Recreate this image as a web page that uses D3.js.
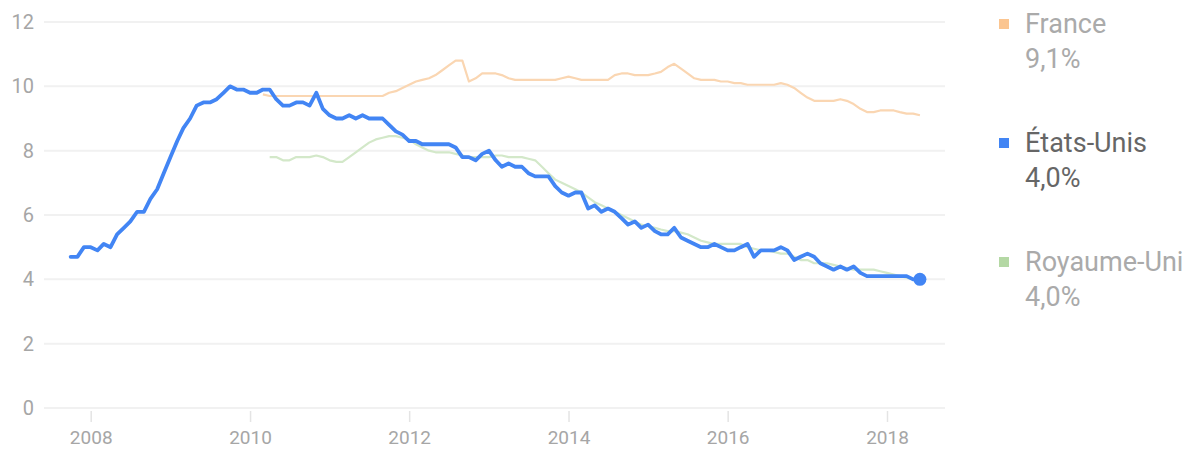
<!DOCTYPE html>
<html>
<head>
<meta charset="utf-8">
<script src="https://cdn.jsdelivr.net/npm/d3@7/dist/d3.min.js"></script>
<style>
  body { margin: 0; background: #fff; }
  svg { display: block; font-family: Roboto, Arial, sans-serif; }
  .grid line { stroke: #f1f1f1; stroke-width: 2; }
  .axis-label { fill: #a6a6a6; font-size: 20px; }
  .legend-name, .legend-value { font-size: 27px; fill: #aaaaaa; }
  .legend-item.active text { fill: #666666; }
</style>
</head>
<body>
<div class="chart"></div>
<script>
// monthly unemployment rate (%)
var usStart = "2007-10";
var usValues = [
  4.7, 4.7, 5.0,
  5.0, 4.9, 5.1, 5.0, 5.4, 5.6, 5.8, 6.1, 6.1, 6.5, 6.8, 7.3,
  7.8, 8.3, 8.7, 9.0, 9.4, 9.5, 9.5, 9.6, 9.8, 10.0, 9.9, 9.9,
  9.8, 9.8, 9.9, 9.9, 9.6, 9.4, 9.4, 9.5, 9.5, 9.4, 9.8, 9.3,
  9.1, 9.0, 9.0, 9.1, 9.0, 9.1, 9.0, 9.0, 9.0, 8.8, 8.6, 8.5,
  8.3, 8.3, 8.2, 8.2, 8.2, 8.2, 8.2, 8.1, 7.8, 7.8, 7.7, 7.9,
  8.0, 7.7, 7.5, 7.6, 7.5, 7.5, 7.3, 7.2, 7.2, 7.2, 6.9, 6.7,
  6.6, 6.7, 6.7, 6.2, 6.3, 6.1, 6.2, 6.1, 5.9, 5.7, 5.8, 5.6,
  5.7, 5.5, 5.4, 5.4, 5.6, 5.3, 5.2, 5.1, 5.0, 5.0, 5.1, 5.0,
  4.9, 4.9, 5.0, 5.1, 4.7, 4.9, 4.9, 4.9, 5.0, 4.9, 4.6, 4.7,
  4.8, 4.7, 4.5, 4.4, 4.3, 4.4, 4.3, 4.4, 4.2, 4.1, 4.1, 4.1,
  4.1, 4.1, 4.1, 4.1, 4.0, 4.0
];

var franceStart = "2010-03";
var franceValues = [
  9.75, 9.7, 9.7, 9.7, 9.7, 9.7, 9.7, 9.7, 9.7, 9.7,
  9.7, 9.7, 9.7, 9.7, 9.7, 9.7, 9.7, 9.7, 9.7, 9.8, 9.85, 9.95,
  10.05, 10.15, 10.2, 10.25, 10.35, 10.5, 10.65, 10.8, 10.8, 10.15, 10.25, 10.4,
  10.4, 10.4, 10.35, 10.25, 10.2, 10.2, 10.2, 10.2, 10.2, 10.2, 10.2, 10.25,
  10.3, 10.25, 10.2, 10.2, 10.2, 10.2, 10.2, 10.35, 10.4, 10.4, 10.35, 10.35,
  10.35, 10.4, 10.45, 10.6, 10.7, 10.55, 10.4, 10.25, 10.2, 10.2, 10.2, 10.15,
  10.15, 10.1, 10.1, 10.05, 10.05, 10.05, 10.05, 10.05, 10.1, 10.05, 9.95, 9.8,
  9.65, 9.55, 9.55, 9.55, 9.55, 9.6, 9.55, 9.45, 9.3, 9.2, 9.2, 9.25,
  9.25, 9.25, 9.2, 9.15, 9.15, 9.1
];

var ukStart = "2010-04";
var ukValues = [
  7.8, 7.8, 7.7, 7.7, 7.8, 7.8, 7.8, 7.85, 7.8,
  7.7, 7.65, 7.65, 7.8, 7.95, 8.1, 8.25, 8.35, 8.4, 8.45, 8.45, 8.4,
  8.35, 8.2, 8.1, 8.0, 7.95, 7.95, 7.95, 7.9, 7.85, 7.8, 7.8, 7.8,
  7.8, 7.85, 7.85, 7.8, 7.8, 7.8, 7.75, 7.7, 7.5, 7.3, 7.1, 7.0,
  6.9, 6.8, 6.7, 6.55, 6.4, 6.3, 6.2, 6.1, 6.0, 5.9, 5.8, 5.7,
  5.65, 5.6, 5.55, 5.5, 5.5, 5.45, 5.4, 5.3, 5.2, 5.15, 5.1, 5.1,
  5.1, 5.1, 5.1, 5.0, 4.95, 4.9, 4.9, 4.85, 4.8, 4.8, 4.7, 4.6,
  4.6, 4.5, 4.5, 4.5, 4.45, 4.4, 4.35, 4.3, 4.3, 4.3, 4.3, 4.25,
  4.2, 4.15, 4.1, 4.05, 4.0
];

var seriesNames = ["France", "États-Unis", "Royaume-Uni"];
var seriesLabels = ["9,1%", "4,0%", "4,0%"];
var yTicks = [0, 2, 4, 6, 8, 10, 12];
var xTickYears = [2008, 2010, 2012, 2014, 2016, 2018];

var svgWidth = 1197;
var svgHeight = 451;
var plotLeft = 44, plotRight = 945;

var parseMonth = d3.timeParse("%Y-%m");

function toPoints(start, values) {
  var d0 = parseMonth(start);
  return values.map(function(v, i) {
    return { date: d3.timeMonth.offset(d0, i), value: v };
  });
}

var france = toPoints(franceStart, franceValues);
var us = toPoints(usStart, usValues);
var uk = toPoints(ukStart, ukValues);

var svg = d3.select(".chart")
  .append("svg")
  .attr("width", svgWidth)
  .attr("height", svgHeight);

var xScale = d3.scaleTime()
  .domain([new Date(2008, 0, 1), new Date(2018, 0, 1)])
  .range([90.7, 887]);
var yScale = d3.scaleLinear().domain([0, 12]).range([408, 22]);

// gridlines
svg.append("g")
  .attr("class", "grid")
  .selectAll("line")
  .data(yTicks)
  .enter()
  .append("line")
  .attr("x1", plotLeft)
  .attr("x2", plotRight)
  .attr("y1", function(d) { return yScale(d); })
  .attr("y2", function(d) { return yScale(d); });

// y labels
svg.append("g")
  .selectAll("text")
  .data(yTicks)
  .enter()
  .append("text")
  .attr("class", "axis-label")
  .attr("x", 34)
  .attr("y", function(d) { return yScale(d); })
  .attr("dy", "0.35em")
  .attr("text-anchor", "end")
  .text(function(d) { return d; });

// x axis: ticks + labels
var bottomAxis = d3.axisBottom(xScale)
  .tickValues(xTickYears.map(function(y) { return new Date(y, 0, 1); }))
  .tickFormat(d3.timeFormat("%Y"))
  .tickSize(11)
  .tickPadding(0);

var xAxis = svg.append("g")
  .attr("transform", "translate(0," + 411 + ")")
  .call(bottomAxis);
xAxis.select(".domain").remove();
xAxis.selectAll(".tick line").attr("stroke", "#e4e4e4").attr("stroke-width", 1.5);
xAxis.selectAll(".tick text")
  .attr("class", "axis-label")
  .attr("fill", null)
  .attr("y", 33)
  .attr("dy", null)
  .style("font-size", "19px")
  .style("font-family", "Roboto, Arial, sans-serif");

var line = d3.line()
  .x(function(d) { return xScale(d.date); })
  .y(function(d) { return yScale(d.value); });

svg.append("path")
  .datum(france)
  .attr("fill", "none")
  .attr("stroke", "#fad6b2")
  .attr("stroke-width", 2.2)
  .attr("stroke-linejoin", "round")
  .attr("d", line);

svg.append("path")
  .datum(uk)
  .attr("fill", "none")
  .attr("stroke", "#d3e8c9")
  .attr("stroke-width", 2.2)
  .attr("stroke-linejoin", "round")
  .attr("d", line);

svg.append("path")
  .datum(us)
  .attr("fill", "none")
  .attr("stroke", "#4285f4")
  .attr("stroke-width", 3.8)
  .attr("stroke-linejoin", "round")
  .attr("stroke-linecap", "round")
  .attr("d", line);

var last = us[us.length - 1];
svg.append("circle")
  .attr("cx", xScale(last.date))
  .attr("cy", yScale(last.value))
  .attr("r", 6.5)
  .attr("fill", "#4285f4");

// legend
var legendColors = ["#fbc590", "#4285f4", "#b4d8a4"];
var legendY = [24, 143, 262];

var legend = svg.selectAll(".legend-item")
  .data(seriesNames)
  .enter()
  .append("g")
  .attr("class", function(d, i) { return "legend-item" + (i === 1 ? " active" : ""); })
  .attr("transform", function(d, i) { return "translate(1004," + legendY[i] + ")"; });

legend.append("rect")
  .attr("x", -5)
  .attr("y", -5)
  .attr("width", 10)
  .attr("height", 10)
  .attr("fill", function(d, i) { return legendColors[i]; });

legend.append("text")
  .attr("class", "legend-name")
  .attr("x", 21)
  .attr("dy", "0.35em")
  .text(function(d) { return d; });

legend.append("text")
  .attr("class", "legend-value")
  .attr("x", 21)
  .attr("y", 35)
  .attr("dy", "0.35em")
  .text(function(d, i) { return seriesLabels[i]; });
</script>
</body>
</html>
